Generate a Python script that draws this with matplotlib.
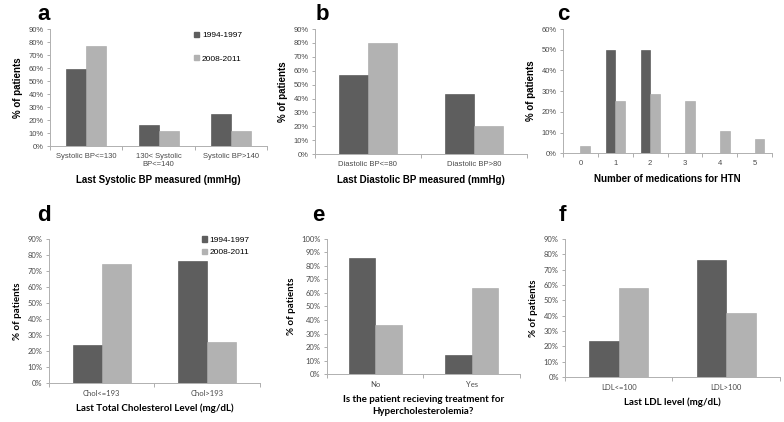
import matplotlib
matplotlib.use('Agg')
import matplotlib.pyplot as plt
from matplotlib.patches import Patch
import numpy as np

# ---- data (percent of patients) ----
periods = ['1994-1997', '2008-2011']

sbp_cats = ['Systolic BP<=130', '130< Systolic\nBP<=140', 'Systolic BP>140']
sbp_early = [59.0, 16.5, 24.5]
sbp_late = [77.0, 11.5, 11.5]

dbp_cats = ['Diastolic BP<=80', 'Diastolic BP>80']
dbp_early = [57.0, 43.0]
dbp_late = [80.0, 20.0]

med_cats = ['0', '1', '2', '3', '4', '5']
med_early = [0.0, 50.0, 50.0, 0.0, 0.0, 0.0]
med_late = [3.6, 25.0, 28.6, 25.0, 10.7, 7.1]

chol_cats = ['Chol<=193', 'Chol>193']
chol_early = [23.5, 76.5]
chol_late = [74.5, 25.5]

treat_cats = ['No', 'Yes']
treat_early = [86.0, 14.0]
treat_late = [36.0, 64.0]

ldl_cats = ['LDL<=100', 'LDL>100']
ldl_early = [23.5, 76.5]
ldl_late = [58.0, 42.0]

DARK = '#5e5e5e'
LIGHT = '#b2b2b2'
TXT = '#4a4a4a'

fig = plt.figure(figsize=(7.84, 4.22), dpi=100)


def panel(rect, cats, early, late, ymax, letter, xlabel, font, letter_xy):
    ax = fig.add_axes(rect)
    x = np.arange(len(cats))
    w = 0.275
    ax.bar(x - w / 2, early, width=w, color=DARK, edgecolor='#4a4a4a', linewidth=0.4)
    ax.bar(x + w / 2, late, width=w, color=LIGHT, edgecolor='#a5a5a5', linewidth=0.4)
    ax.set_xlim(-0.5, len(cats) - 0.5)
    ax.set_ylim(0, ymax)
    ax.set_yticks(np.arange(0, ymax + 1, 10))
    ax.set_yticklabels(['%d%%' % v for v in np.arange(0, ymax + 1, 10)],
                       fontsize=5.5, color=TXT, family=font)
    ax.set_xticks(x)
    ax.set_xticklabels(cats, fontsize=5.5, color=TXT, family=font, linespacing=1.3)
    ax.set_xticks(np.arange(-0.5, len(cats)), minor=True)
    ax.tick_params(axis='x', which='major', length=0, pad=5)
    ax.tick_params(axis='x', which='minor', length=3, color='#a0a0a0', width=0.6)
    ax.tick_params(axis='y', length=2.5, color='#a0a0a0', width=0.6, pad=2)
    for s in ['top', 'right']:
        ax.spines[s].set_visible(False)
    for s in ['left', 'bottom']:
        ax.spines[s].set_color('#b0b0b0')
        ax.spines[s].set_linewidth(0.7)
    ax.set_ylabel('% of patients', fontsize=7, fontweight='bold', family=font, labelpad=4)
    ax.set_xlabel(xlabel, fontsize=7, fontweight='bold', family=font, labelpad=5,
                  linespacing=1.5)
    fig.text(letter_xy[0], letter_xy[1], letter, fontsize=16, fontweight='bold',
             family='Liberation Sans', ha='center', va='center')
    return ax


arial = 'Liberation Sans'
cal = 'Lato'

ax_a = panel([0.0638, 0.654, 0.277, 0.277], sbp_cats, sbp_early, sbp_late, 90, 'a',
             'Last Systolic BP measured (mmHg)', arial, (0.056, 0.965))
ax_b = panel([0.4018, 0.635, 0.270, 0.296], dbp_cats, dbp_early, dbp_late, 90, 'b',
             'Last Diastolic BP measured (mmHg)', arial, (0.411, 0.965))
ax_c = panel([0.718, 0.637, 0.267, 0.294], med_cats, med_early, med_late, 60, 'c',
             'Number of medications for HTN', arial, (0.718, 0.965))
ax_d = panel([0.0625, 0.0924, 0.269, 0.341], chol_cats, chol_early, chol_late, 90, 'd',
             'Last Total Cholesterol Level (mg/dL)', cal, (0.056, 0.49))
ax_e = panel([0.417, 0.1137, 0.246, 0.32], treat_cats, treat_early, treat_late, 100, 'e',
             'Is the patient recieving treatment for\nHypercholesterolemia?', cal, (0.406, 0.49))
ax_f = panel([0.7207, 0.1066, 0.274, 0.327], ldl_cats, ldl_early, ldl_late, 90, 'f',
             'Last LDL level (mg/dL)', cal, (0.717, 0.49))

handles = [Patch(color=DARK), Patch(color=LIGHT)]
ax_a.legend(handles, periods, loc='upper left', bbox_to_anchor=(0.248, 0.925),
            bbox_transform=fig.transFigure, frameon=False, fontsize=6,
            handlelength=0.6, handleheight=0.6, handletextpad=0.3,
            labelspacing=1.9, borderpad=0, borderaxespad=0,
            prop={'family': arial, 'size': 6})
ax_d.legend(handles, periods, loc='upper left', bbox_to_anchor=(0.258, 0.44),
            bbox_transform=fig.transFigure, frameon=False,
            handlelength=0.6, handleheight=0.6, handletextpad=0.3,
            labelspacing=0.6, borderpad=0, borderaxespad=0,
            prop={'family': arial, 'size': 6})

plt.savefig('out.png', dpi=100)
plt.close()
